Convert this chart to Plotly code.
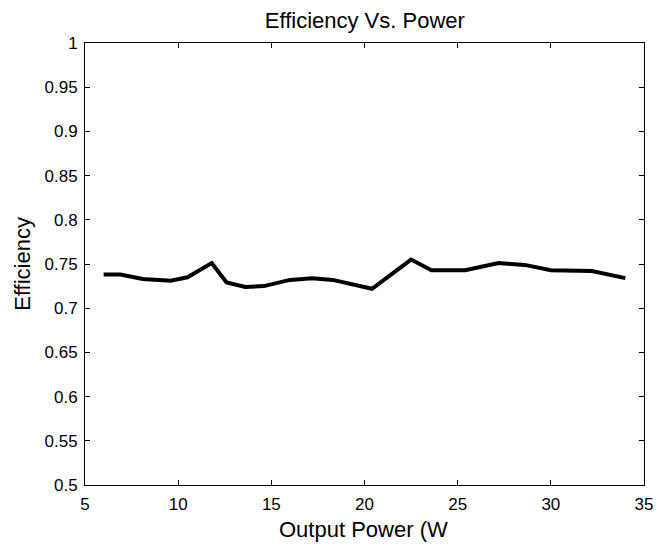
import plotly.graph_objects as go

output_power = [6.0, 6.9, 8.1, 9.1, 9.6, 10.5, 11.8, 12.6, 13.6, 14.6, 16.0, 17.2, 18.3, 20.4, 22.5, 23.6, 25.4, 27.2, 28.6, 30.0, 32.2, 34.0]
efficiency = [0.738, 0.738, 0.733, 0.731, 0.731, 0.735, 0.751, 0.729, 0.724, 0.725, 0.732, 0.734, 0.732, 0.722, 0.755, 0.743, 0.743, 0.751, 0.749, 0.743, 0.742, 0.734]

x_ticks = [5, 10, 15, 20, 25, 30, 35]
y_ticks = [0.5, 0.55, 0.6, 0.65, 0.7, 0.75, 0.8, 0.85, 0.9, 0.95, 1]
y_tick_text = ["0.5", "0.55", "0.6", "0.65", "0.7", "0.75", "0.8", "0.85", "0.9", "0.95", "1"]

font_family = "Liberation Sans, Arial, Helvetica, sans-serif"

fig = go.Figure()
fig.add_trace(go.Scatter(
    x=output_power, y=efficiency, mode="lines",
    line=dict(color="black", width=4),
    showlegend=False, hoverinfo="x+y",
))

axis_common = dict(
    showgrid=False, zeroline=False, showline=True, linecolor="black", linewidth=1,
    mirror="ticks", ticks="inside", ticklen=5, tickcolor="black", tickwidth=1,
    tickfont=dict(family=font_family, size=17, color="black"),
)

fig.update_layout(
    width=665, height=546,
    margin=dict(l=85, r=19, t=43, b=61),
    paper_bgcolor="white", plot_bgcolor="white",
    title=dict(text="Efficiency Vs. Power", x=0.5486, xanchor="center", y=0.963, yanchor="middle",
               font=dict(family=font_family, size=22, color="black")),
    xaxis=dict(range=[5, 35], tickvals=x_ticks, ticklabelstandoff=4, **axis_common),
    yaxis=dict(range=[0.5, 1], tickvals=y_ticks, ticktext=y_tick_text, ticklabelstandoff=3, **axis_common),
    annotations=[
        dict(text="Output Power (W", xref="paper", yref="paper", x=0.499, y=-0.1018,
             xanchor="center", yanchor="middle", showarrow=False,
             font=dict(family=font_family, size=22, color="black")),
        dict(text="Efficiency", xref="paper", yref="paper", x=-0.1123, y=0.501,
             xanchor="center", yanchor="middle", showarrow=False, textangle=-90,
             font=dict(family=font_family, size=22, color="black")),
    ],
)

fig.write_html("out.html", config={"displayModeBar": False},
               post_script="document.body.style.margin='0';document.body.style.overflow='hidden';")
